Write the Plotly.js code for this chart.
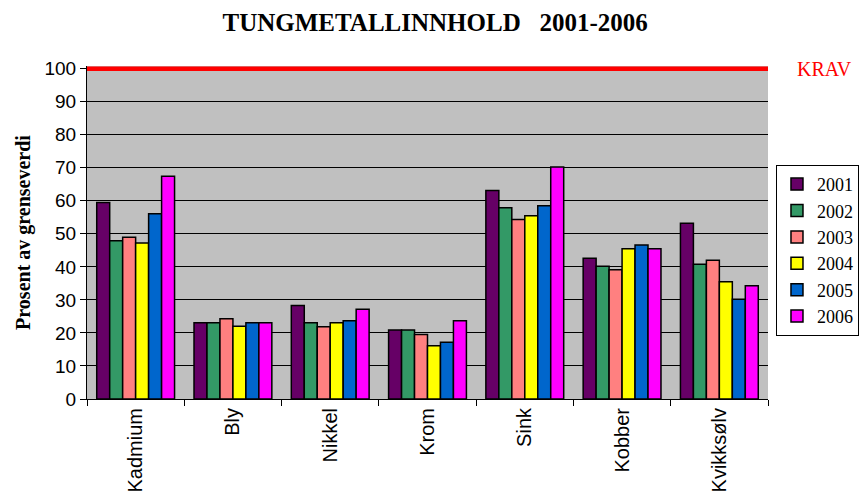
<!DOCTYPE html>
<html><head><meta charset="utf-8">
<script src="https://cdn.plot.ly/plotly-3.0.1.min.js"></script>
<style>html,body{margin:0;padding:0;background:#fff}#chart{width:860px;height:498px}</style>
</head><body><div id="chart"></div>
<script>
const categories = ["Kadmium","Bly","Nikkel","Krom","Sink","Kobber","Kvikksølv"];
const years = ["2001","2002","2003","2004","2005","2006"];
const colors = ["#660066","#339966","#FF8080","#FFFF00","#0066CC","#FF00FF"];
const v2001 = [59.5, 23.1, 28.3, 20.9, 63.1, 42.6, 53.2];
const v2002 = [47.9, 23.1, 23.1, 20.9, 57.9, 40.2, 40.8];
const v2003 = [49.0, 24.3, 21.9, 19.5, 54.3, 39.1, 42.0];
const v2004 = [47.2, 22.0, 23.1, 16.1, 55.5, 45.5, 35.5];
const v2005 = [56.1, 23.1, 23.7, 17.2, 58.5, 46.6, 30.2];
const v2006 = [67.4, 23.1, 27.2, 23.7, 70.2, 45.5, 34.3];
const krav = 100;
const kravLabel = "KRAV";
const yTicks = [0,10,20,30,40,50,60,70,80,90,100];

const series = [v2001, v2002, v2003, v2004, v2005, v2006];
const traces = series.map((vals, i) => ({
  type: 'bar', name: years[i], x: categories, y: vals,
  marker: {color: colors[i], line: {color: '#000', width: 1.5}}
}));
// KRAV limit line across the full plot width (on a hidden helper x axis spanning 0..1)
traces.push({
  type: 'scatter', mode: 'lines', xaxis: 'x2', yaxis: 'y',
  x: [0, 1], y: [krav, krav], showlegend: false,
  line: {color: '#FF0000', width: 4.5}, hoverinfo: 'skip'
});

const serif = 'Liberation Serif, Times New Roman, serif';
const sans = 'Liberation Sans, Arial, sans-serif';
const layout = {
  width: 860, height: 498,
  margin: {l: 87, r: 92, t: 66.4, b: 99, autoexpand: false},
  paper_bgcolor: '#fff', plot_bgcolor: '#C0C0C0',
  barmode: 'group', bargap: 0.2, bargroupgap: 0,
  title: {text: '<b>TUNGMETALLINNHOLD\u00a0\u00a0 2001-2006</b>', x: 0.506, xanchor: 'center', y: 0.955, yanchor: 'middle',
          font: {family: serif, size: 25, color: '#000'}},
  xaxis: {
    showgrid: false, showline: true, linecolor: '#000', linewidth: 1,
    ticks: 'outside', tickson: 'boundaries', ticklen: 6, tickcolor: '#000',
    tickangle: -90, tickfont: {family: sans, size: 20, color: '#000'}
  },
  xaxis2: {overlaying: 'x', range: [0, 1], visible: false, fixedrange: true},
  yaxis: {
    range: [0, 100.8], tickvals: yTicks, ticktext: yTicks.map(String),
    showgrid: true, gridcolor: '#000', gridwidth: 1,
    showline: true, linecolor: '#000', linewidth: 1,
    ticks: 'outside', ticklen: 6, tickcolor: '#000', zeroline: false,
    tickfont: {family: sans, size: 19, color: '#000'},
    title: {text: '<b>Prosent av grenseverdi</b>', standoff: 8,
            font: {family: serif, size: 20, color: '#000'}}
  },
  legend: {
    x: 1.1336, xanchor: 'right', y: 0.703, yanchor: 'top',
    bordercolor: '#000', borderwidth: 1, bgcolor: '#fff',
    font: {family: serif, size: 18, color: '#000'},
    tracegroupgap: 0, itemwidth: 30
  },
  annotations: [{text: kravLabel, xref: 'paper', yref: 'y', x: 1.04, y: krav, xanchor: 'left', yanchor: 'middle',
                 showarrow: false, font: {family: serif, size: 20, color: '#FF0000'}}]
};
Plotly.newPlot('chart', traces, layout, {displayModeBar: false, staticPlot: true});
</script></body></html>
